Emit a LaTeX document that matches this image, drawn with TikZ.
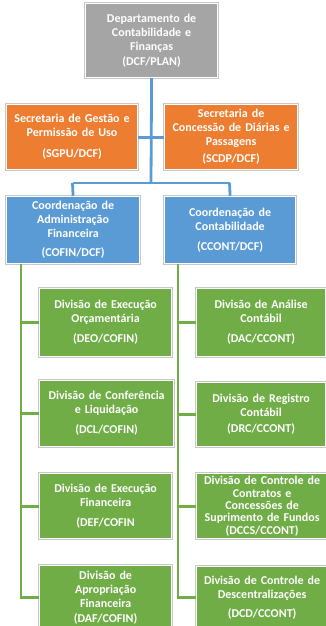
\documentclass[tikz,border=0pt]{standalone}
\usepackage{fontspec}
\setmainfont{Carlito}[WordSpace=1.6]
\usetikzlibrary{calc}
\definecolor{cgray}{HTML}{A5A5A5}
\definecolor{corange}{HTML}{ED7D31}
\definecolor{cblue}{HTML}{5B9BD5}
\definecolor{cgreen}{HTML}{70AD47}
\newcommand\boxfont{\fontsize{12}{14}\selectfont\bfseries}
\newcommand\tightfont{\fontsize{12}{12.4}\selectfont\bfseries}
\tikzset{
  box/.style={anchor=north west, inner sep=0pt, align=center, text=white,
    font=\boxfont, draw=white, line width=1.2pt,
    preaction={draw=black!22, line width=2.6pt}},
  bline/.style={draw=cblue, line width=2.8pt},
  gline/.style={draw=cgreen, line width=2.8pt},
}
\begin{document}
\begin{tikzpicture}[x=1pt,y=-1pt]
\useasboundingbox (0,0) rectangle (326,626);
% top
\node[box, fill=cgray, minimum width=132, minimum height=74, text width=126] (dcf) at (85,3)
  {Departamento de\\Contabilidade e\\Finanças\\[1pt](DCF/PLAN)};
% secretarias
\node[box, fill=corange, minimum width=131, minimum height=65, text width=131] (sgpu) at (6,104)
  {Secretaria de Gestão e\\Permissão de Uso\\[7pt](SGPU/DCF)};
\node[box, fill=corange, minimum width=131, minimum height=65, text width=133] (scdp) at (164,104)
  {Secretaria de\\Concessão de Diárias e\\Passagens\\[3pt](SCDP/DCF)};
% coordenacoes
\node[box, fill=cblue, minimum width=133, minimum height=67, text width=127] (cofin) at (6,196)
  {Coordenação de\\Administração\\Financeira\\[5pt](COFIN/DCF)};
\node[box, fill=cblue, minimum width=131, minimum height=67, text width=127] (ccont) at (164,196)
  {Coordenação de\\Contabilidade\\[6pt](CCONT/DCF)};
% divisoes COFIN
\node[box, fill=cgreen, minimum width=132, minimum height=68, text width=130] (deo) at (39,288)
  {Divisão de Execução\\Orçamentária\\[6pt](DEO/COFIN)};
\node[box, fill=cgreen, minimum width=132, minimum height=66, text width=134] (dcl) at (39,380)
  {Divisão de Conferência\\e Liquidação\\[6pt](DCL/COFIN)};
\node[box, fill=cgreen, minimum width=132, minimum height=65, text width=130] (def) at (39,473)
  {Divisão de Execução\\Financeira\\[6pt](DEF/COFIN};
\node[box, fill=cgreen, minimum width=132, minimum height=64, text width=128] (daf) at (39,565)
  {Divisão de\\Apropriação\\Financeira\\[1pt](DAF/COFIN)};
% divisoes CCONT
\node[box, fill=cgreen, minimum width=129, minimum height=68, text width=127] (dac) at (196,288)
  {Divisão de Análise\\Contábil\\[6pt](DAC/CCONT)};
\node[box, fill=cgreen, minimum width=129, minimum height=64, text width=127] (drc) at (196,382)
  {Divisão de Registro\\Contábil\\[2pt](DRC/CCONT)};
\node[box, fill=cgreen, minimum width=129, minimum height=65, text width=131,
  font=\tightfont] (dccs) at (196,473)
  {Divisão de Controle de\\Contratos e\\Concessões de\\Suprimento de Fundos\\(DCCS/CCONT)};
\node[box, fill=cgreen, minimum width=129, minimum height=62, text width=131] (dcd) at (196,566)
  {Divisão de Controle de\\Descentralizações\\[5pt](DCD/CCONT)};
% blue connectors
\coordinate (bj) at (151,183);
\coordinate (bl) at (72.5,183);
\coordinate (br) at (229.5,183);
\draw[bline] (dcf.south) -- (bj);
\draw[bline] (sgpu.east) -- (scdp.west);
\draw[bline] (bl) -- (br);
\draw[bline] (bl) -- (cofin.north);
\draw[bline] (br) -- (ccont.north);
% green connectors
\coordinate (lg) at (21,0);
\coordinate (rg) at (178,0);
\draw[gline] (cofin.south -| lg) |- (daf.west);
\draw[gline] (deo.west -| lg) -- (deo.west);
\draw[gline] (dcl.west -| lg) -- (dcl.west);
\draw[gline] (def.west -| lg) -- (def.west);
\draw[gline] (ccont.south -| rg) |- (dcd.west);
\draw[gline] (dac.west -| rg) -- (dac.west);
\draw[gline] (drc.west -| rg) -- (drc.west);
\draw[gline] (dccs.west -| rg) -- (dccs.west);
\end{tikzpicture}
\end{document}
